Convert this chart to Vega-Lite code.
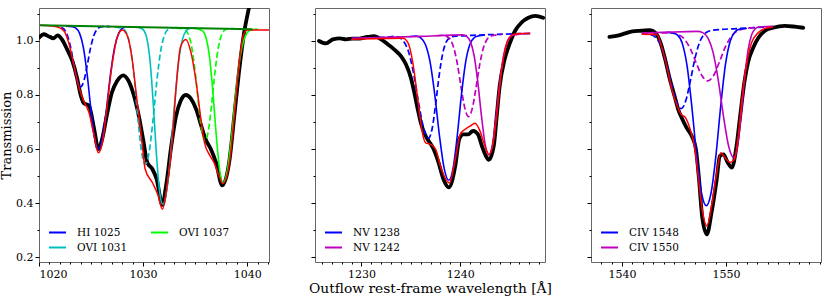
{
"$schema": "https://vega.github.io/schema/vega-lite/v6.json",
"background": "white",
"padding": {"left": 0, "top": 7, "right": 0, "bottom": 0},
"autosize": {"type": "pad"},
"bounds": "flush",
"spacing": 46,
"config": {
  "view": {"stroke": "#666666", "strokeWidth": 1},
  "font": "DejaVu Serif",
  "axis": {"labelFont": "DejaVu Serif", "labelFontSize": 11, "labelColor": "#000000", "tickColor": "#000000", "tickWidth": 1, "domain": false, "grid": false, "titleFont": "DejaVu Serif", "titleFontWeight": "normal", "titleColor": "#000000"},
  "legend": {"labelFont": "DejaVu Serif", "labelFontSize": 10.5, "labelColor": "#000000", "symbolType": "stroke", "symbolStrokeWidth": 2, "symbolSize": 289, "labelOffset": 10, "rowPadding": 0, "columnPadding": 19, "padding": 0, "offset": 9, "orient": "bottom-left"}
},
"resolve": {"scale": {"x": "independent", "y": "independent", "color": "independent", "stroke": "independent"}, "legend": {"color": "independent"}},
"datasets": {
"p1": [
{"k":"d","x":1020.0,"y":1.012},{"k":"d","x":1020.45,"y":1.025},{"k":"d","x":1020.9,"y":1.018},{"k":"d","x":1021.4,"y":1.010},{"k":"d","x":1021.8,"y":1.021},{"k":"d","x":1022.2,"y":1.006},{"k":"d","x":1022.7,"y":0.969},{"k":"d","x":1023.2,"y":0.926},{"k":"d","x":1023.65,"y":0.864},{"k":"d","x":1024.0,"y":0.800},{"k":"d","x":1024.3,"y":0.770},{"k":"d","x":1024.8,"y":0.760},{"k":"d","x":1025.3,"y":0.673},{"k":"d","x":1025.7,"y":0.600},{"k":"d","x":1026.06,"y":0.636},{"k":"d","x":1026.5,"y":0.722},{"k":"d","x":1027.0,"y":0.809},{"k":"d","x":1027.5,"y":0.852},{"k":"d","x":1028.1,"y":0.873},{"k":"d","x":1028.6,"y":0.852},{"k":"d","x":1029.1,"y":0.800},{"k":"d","x":1029.6,"y":0.720},{"k":"d","x":1030.0,"y":0.636},{"k":"d","x":1030.4,"y":0.550},{"k":"d","x":1030.9,"y":0.525},{"k":"d","x":1031.3,"y":0.488},{"k":"d","x":1031.85,"y":0.393},{"k":"d","x":1032.2,"y":0.463},{"k":"d","x":1032.7,"y":0.610},{"k":"d","x":1033.15,"y":0.720},{"k":"d","x":1033.6,"y":0.778},{"k":"d","x":1034.1,"y":0.800},{"k":"d","x":1034.6,"y":0.786},{"k":"d","x":1035.1,"y":0.747},{"k":"d","x":1035.55,"y":0.690},{"k":"d","x":1036.0,"y":0.636},{"k":"d","x":1036.5,"y":0.600},{"k":"d","x":1037.0,"y":0.550},{"k":"d","x":1037.6,"y":0.465},{"k":"d","x":1038.3,"y":0.560},{"k":"d","x":1038.75,"y":0.720},{"k":"d","x":1039.2,"y":0.883},{"k":"d","x":1039.7,"y":1.031},{"k":"d","x":1040.2,"y":1.130},{"k":"d","x":1040.4,"y":1.170},
{"k":"h","gd":"HI 1025 b","x":1021.3,"y":1.056},{"k":"h","gd":"HI 1025 b","x":1021.76,"y":1.0545},{"k":"h","gd":"HI 1025 b","x":1022.08,"y":1.0522},{"k":"h","gd":"HI 1025 b","x":1022.40,"y":1.0439},{"k":"h","gd":"HI 1025 b","x":1022.72,"y":1.0213},{"k":"h","gd":"HI 1025 b","x":1023.04,"y":0.9759},{"k":"h","gd":"HI 1025 b","x":1023.36,"y":0.9120},{"k":"h","gd":"HI 1025 b","x":1023.68,"y":0.8536},{"k":"h","gd":"HI 1025 b","x":1024.0,"y":0.8299},{"k":"h","gd":"HI 1025 b","x":1024.32,"y":0.8536},{"k":"h","gd":"HI 1025 b","x":1024.64,"y":0.9120},{"k":"h","gd":"HI 1025 b","x":1024.96,"y":0.9759},{"k":"h","gd":"HI 1025 b","x":1025.28,"y":1.0213},{"k":"h","gd":"HI 1025 b","x":1025.60,"y":1.0439},{"k":"h","gd":"HI 1025 b","x":1025.92,"y":1.0522},{"k":"h","gd":"HI 1025 b","x":1026.24,"y":1.0545},{"k":"h","gd":"HI 1025 b","x":1026.8,"y":1.0535},
{"k":"h","gd":"OVI 1031 b","x":1027.3,"y":1.051},{"k":"h","gd":"OVI 1031 b","x":1027.82,"y":1.0486},{"k":"h","gd":"OVI 1031 b","x":1028.16,"y":1.0433},{"k":"h","gd":"OVI 1031 b","x":1028.50,"y":1.0210},{"k":"h","gd":"OVI 1031 b","x":1028.84,"y":0.9612},{"k":"h","gd":"OVI 1031 b","x":1029.18,"y":0.8483},{"k":"h","gd":"OVI 1031 b","x":1029.52,"y":0.7043},{"k":"h","gd":"OVI 1031 b","x":1029.86,"y":0.5870},{"k":"h","gd":"OVI 1031 b","x":1030.2,"y":0.5433},{"k":"h","gd":"OVI 1031 b","x":1030.57,"y":0.5870},{"k":"h","gd":"OVI 1031 b","x":1030.94,"y":0.7043},{"k":"h","gd":"OVI 1031 b","x":1031.31,"y":0.8483},{"k":"h","gd":"OVI 1031 b","x":1031.68,"y":0.9612},{"k":"h","gd":"OVI 1031 b","x":1032.05,"y":1.0210},{"k":"h","gd":"OVI 1031 b","x":1032.42,"y":1.0433},{"k":"h","gd":"OVI 1031 b","x":1032.79,"y":1.0486},{"k":"h","gd":"OVI 1031 b","x":1033.3,"y":1.050},
{"k":"h","gd":"OVI 1037 b","x":1033.2,"y":1.048},{"k":"h","gd":"OVI 1037 b","x":1033.71,"y":1.0458},{"k":"h","gd":"OVI 1037 b","x":1034.03,"y":1.0411},{"k":"h","gd":"OVI 1037 b","x":1034.35,"y":1.0239},{"k":"h","gd":"OVI 1037 b","x":1034.67,"y":0.9775},{"k":"h","gd":"OVI 1037 b","x":1034.99,"y":0.8879},{"k":"h","gd":"OVI 1037 b","x":1035.31,"y":0.7694},{"k":"h","gd":"OVI 1037 b","x":1035.63,"y":0.6687},{"k":"h","gd":"OVI 1037 b","x":1035.95,"y":0.630},{"k":"h","gd":"OVI 1037 b","x":1036.27,"y":0.6687},{"k":"h","gd":"OVI 1037 b","x":1036.59,"y":0.7694},{"k":"h","gd":"OVI 1037 b","x":1036.91,"y":0.8879},{"k":"h","gd":"OVI 1037 b","x":1037.23,"y":0.9775},{"k":"h","gd":"OVI 1037 b","x":1037.55,"y":1.0239},{"k":"h","gd":"OVI 1037 b","x":1037.87,"y":1.0411},{"k":"h","gd":"OVI 1037 b","x":1038.19,"y":1.0458},{"k":"h","gd":"OVI 1037 b","x":1038.7,"y":1.046},
{"k":"s","g":"HI 1025","x":1022.6,"y":1.055},{"k":"s","g":"HI 1025","x":1023.18,"y":1.0527},{"k":"s","g":"HI 1025","x":1023.54,"y":1.0474},{"k":"s","g":"HI 1025","x":1023.90,"y":1.0283},{"k":"s","g":"HI 1025","x":1024.26,"y":0.9767},{"k":"s","g":"HI 1025","x":1024.62,"y":0.8779},{"k":"s","g":"HI 1025","x":1024.98,"y":0.7491},{"k":"s","g":"HI 1025","x":1025.34,"y":0.6413},{"k":"s","g":"HI 1025","x":1025.7,"y":0.6003},{"k":"s","g":"HI 1025","x":1026.09,"y":0.6413},{"k":"s","g":"HI 1025","x":1026.48,"y":0.7491},{"k":"s","g":"HI 1025","x":1026.87,"y":0.8779},{"k":"s","g":"HI 1025","x":1027.26,"y":0.9767},{"k":"s","g":"HI 1025","x":1027.65,"y":1.0283},{"k":"s","g":"HI 1025","x":1028.04,"y":1.0474},{"k":"s","g":"HI 1025","x":1028.43,"y":1.0527},{"k":"s","g":"HI 1025","x":1029.0,"y":1.052},
{"k":"s","g":"OVI 1031","x":1029.2,"y":1.051},{"k":"s","g":"OVI 1031","x":1029.78,"y":1.0477},{"k":"s","g":"OVI 1031","x":1030.08,"y":1.0387},{"k":"s","g":"OVI 1031","x":1030.38,"y":1.0059},{"k":"s","g":"OVI 1031","x":1030.68,"y":0.9199},{"k":"s","g":"OVI 1031","x":1030.98,"y":0.7643},{"k":"s","g":"OVI 1031","x":1031.28,"y":0.5801},{"k":"s","g":"OVI 1031","x":1031.58,"y":0.4430},{"k":"s","g":"OVI 1031","x":1031.88,"y":0.3949},{"k":"s","g":"OVI 1031","x":1032.26,"y":0.4430},{"k":"s","g":"OVI 1031","x":1032.64,"y":0.5801},{"k":"s","g":"OVI 1031","x":1033.02,"y":0.7643},{"k":"s","g":"OVI 1031","x":1033.40,"y":0.9199},{"k":"s","g":"OVI 1031","x":1033.78,"y":1.0059},{"k":"s","g":"OVI 1031","x":1034.16,"y":1.0387},{"k":"s","g":"OVI 1031","x":1034.54,"y":1.0477},{"k":"s","g":"OVI 1031","x":1035.1,"y":1.049},
{"k":"s","g":"OVI 1037","x":1034.8,"y":1.047},{"k":"s","g":"OVI 1037","x":1035.405,"y":1.0428},{"k":"s","g":"OVI 1037","x":1035.73,"y":1.0369},{"k":"s","g":"OVI 1037","x":1036.055,"y":1.0104},{"k":"s","g":"OVI 1037","x":1036.38,"y":0.9401},{"k":"s","g":"OVI 1037","x":1036.705,"y":0.8096},{"k":"s","g":"OVI 1037","x":1037.03,"y":0.6482},{"k":"s","g":"OVI 1037","x":1037.355,"y":0.5213},{"k":"s","g":"OVI 1037","x":1037.68,"y":0.4752},{"k":"s","g":"OVI 1037","x":1038.09,"y":0.5213},{"k":"s","g":"OVI 1037","x":1038.50,"y":0.6482},{"k":"s","g":"OVI 1037","x":1038.91,"y":0.8096},{"k":"s","g":"OVI 1037","x":1039.32,"y":0.9401},{"k":"s","g":"OVI 1037","x":1039.73,"y":1.0104},{"k":"s","g":"OVI 1037","x":1040.14,"y":1.0369},{"k":"s","g":"OVI 1037","x":1040.55,"y":1.0428},{"k":"s","g":"OVI 1037","x":1041.0,"y":1.044},
{"k":"f","x":1020.1,"y":1.058},{"k":"f","x":1021.7,"y":1.053},{"k":"f","x":1022.4,"y":1.037},{"k":"f","x":1022.85,"y":0.994},{"k":"f","x":1023.3,"y":0.920},{"k":"f","x":1023.8,"y":0.833},{"k":"f","x":1024.3,"y":0.778},{"k":"f","x":1024.8,"y":0.735},{"k":"f","x":1025.3,"y":0.648},{"k":"f","x":1025.7,"y":0.586},{"k":"f","x":1026.15,"y":0.636},{"k":"f","x":1026.5,"y":0.747},{"k":"f","x":1027.0,"y":0.907},{"k":"f","x":1027.5,"y":1.012},{"k":"f","x":1028.0,"y":1.041},{"k":"f","x":1028.5,"y":1.018},{"k":"f","x":1028.95,"y":0.932},{"k":"f","x":1029.4,"y":0.784},{"k":"f","x":1029.9,"y":0.623},{"k":"f","x":1030.2,"y":0.525},{"k":"f","x":1030.9,"y":0.475},{"k":"f","x":1031.4,"y":0.432},{"k":"f","x":1031.85,"y":0.377},{"k":"f","x":1032.3,"y":0.463},{"k":"f","x":1032.8,"y":0.636},{"k":"f","x":1033.15,"y":0.820},{"k":"f","x":1033.6,"y":0.980},{"k":"f","x":1034.1,"y":1.006},{"k":"f","x":1034.6,"y":0.957},{"k":"f","x":1035.1,"y":0.846},{"k":"f","x":1035.55,"y":0.710},{"k":"f","x":1035.9,"y":0.623},{"k":"f","x":1036.35,"y":0.580},{"k":"f","x":1036.8,"y":0.550},{"k":"f","x":1037.3,"y":0.500},{"k":"f","x":1037.65,"y":0.472},{"k":"f","x":1038.3,"y":0.550},{"k":"f","x":1038.75,"y":0.720},{"k":"f","x":1039.2,"y":0.907},{"k":"f","x":1039.6,"y":1.018},{"k":"f","x":1040.0,"y":1.041},{"k":"f","x":1042.1,"y":1.041},
{"k":"c","x":1020.1,"y":1.058},{"k":"c","x":1040.5,"y":1.0434}
],
"p2": [
{"k":"d","x":1225.7,"y":1.000},{"k":"d","x":1226.4,"y":0.991},{"k":"d","x":1227.1,"y":1.006},{"k":"d","x":1227.8,"y":1.010},{"k":"d","x":1228.45,"y":1.006},{"k":"d","x":1229.1,"y":1.009},{"k":"d","x":1229.8,"y":1.009},{"k":"d","x":1230.6,"y":1.015},{"k":"d","x":1231.3,"y":1.018},{"k":"d","x":1232.0,"y":1.006},{"k":"d","x":1232.65,"y":0.988},{"k":"d","x":1233.3,"y":0.969},{"k":"d","x":1234.0,"y":0.944},{"k":"d","x":1234.5,"y":0.914},{"k":"d","x":1235.0,"y":0.864},{"k":"d","x":1235.35,"y":0.809},{"k":"d","x":1235.7,"y":0.747},{"k":"d","x":1236.0,"y":0.698},{"k":"d","x":1236.5,"y":0.648},{"k":"d","x":1236.8,"y":0.630},{"k":"d","x":1237.3,"y":0.600},{"k":"d","x":1237.8,"y":0.550},{"k":"d","x":1238.3,"y":0.488},{"k":"d","x":1238.85,"y":0.458},{"k":"d","x":1239.5,"y":0.537},{"k":"d","x":1239.9,"y":0.636},{"k":"d","x":1240.3,"y":0.654},{"k":"d","x":1240.8,"y":0.654},{"k":"d","x":1241.3,"y":0.667},{"k":"d","x":1241.8,"y":0.654},{"k":"d","x":1242.2,"y":0.611},{"k":"d","x":1242.6,"y":0.574},{"k":"d","x":1242.9,"y":0.560},{"k":"d","x":1243.4,"y":0.611},{"k":"d","x":1243.7,"y":0.722},{"k":"d","x":1244.0,"y":0.833},{"k":"d","x":1244.5,"y":0.932},{"k":"d","x":1245.05,"y":0.994},{"k":"d","x":1245.55,"y":1.037},{"k":"d","x":1246.2,"y":1.068},{"k":"d","x":1246.9,"y":1.086},{"k":"d","x":1247.6,"y":1.093},{"k":"d","x":1248.4,"y":1.086},
{"k":"h","gd":"NV 1238 b","x":1229.0,"y":1.010},{"k":"h","gd":"NV 1238 b","x":1232.5,"y":1.0135},{"k":"h","gd":"NV 1238 b","x":1233.3,"y":1.0170},{"k":"h","gd":"NV 1238 b","x":1233.8,"y":1.0128},{"k":"h","gd":"NV 1238 b","x":1234.3,"y":0.9974},{"k":"h","gd":"NV 1238 b","x":1234.8,"y":0.9560},{"k":"h","gd":"NV 1238 b","x":1235.3,"y":0.8756},{"k":"h","gd":"NV 1238 b","x":1235.8,"y":0.7683},{"k":"h","gd":"NV 1238 b","x":1236.3,"y":0.6760},{"k":"h","gd":"NV 1238 b","x":1236.8,"y":0.6401},{"k":"h","gd":"NV 1238 b","x":1237.16,"y":0.6760},{"k":"h","gd":"NV 1238 b","x":1237.52,"y":0.7683},{"k":"h","gd":"NV 1238 b","x":1237.88,"y":0.8756},{"k":"h","gd":"NV 1238 b","x":1238.24,"y":0.9560},{"k":"h","gd":"NV 1238 b","x":1238.60,"y":0.9974},{"k":"h","gd":"NV 1238 b","x":1238.96,"y":1.0128},{"k":"h","gd":"NV 1238 b","x":1239.32,"y":1.0170},{"k":"h","gd":"NV 1238 b","x":1242.0,"y":1.022},{"k":"h","gd":"NV 1238 b","x":1247.1,"y":1.028},
{"k":"h","gd":"NV 1242 b","x":1237.6,"y":1.0195},{"k":"h","gd":"NV 1242 b","x":1238.225,"y":1.0212},{"k":"h","gd":"NV 1242 b","x":1238.60,"y":1.0180},{"k":"h","gd":"NV 1242 b","x":1238.975,"y":1.0064},{"k":"h","gd":"NV 1242 b","x":1239.35,"y":0.9747},{"k":"h","gd":"NV 1242 b","x":1239.725,"y":0.9122},{"k":"h","gd":"NV 1242 b","x":1240.10,"y":0.8265},{"k":"h","gd":"NV 1242 b","x":1240.475,"y":0.7504},{"k":"h","gd":"NV 1242 b","x":1240.85,"y":0.7202},{"k":"h","gd":"NV 1242 b","x":1241.225,"y":0.7504},{"k":"h","gd":"NV 1242 b","x":1241.60,"y":0.8265},{"k":"h","gd":"NV 1242 b","x":1241.975,"y":0.9122},{"k":"h","gd":"NV 1242 b","x":1242.35,"y":0.9747},{"k":"h","gd":"NV 1242 b","x":1242.725,"y":1.0064},{"k":"h","gd":"NV 1242 b","x":1243.10,"y":1.0180},{"k":"h","gd":"NV 1242 b","x":1243.475,"y":1.0212},{"k":"h","gd":"NV 1242 b","x":1244.2,"y":1.024},
{"k":"s","g":"NV 1238","x":1234.8,"y":1.016},{"k":"s","g":"NV 1238","x":1235.525,"y":1.0183},{"k":"s","g":"NV 1238","x":1236.00,"y":1.0116},{"k":"s","g":"NV 1238","x":1236.475,"y":0.9872},{"k":"s","g":"NV 1238","x":1236.95,"y":0.9221},{"k":"s","g":"NV 1238","x":1237.425,"y":0.8007},{"k":"s","g":"NV 1238","x":1237.90,"y":0.6490},{"k":"s","g":"NV 1238","x":1238.375,"y":0.5283},{"k":"s","g":"NV 1238","x":1238.85,"y":0.4840},{"k":"s","g":"NV 1238","x":1239.275,"y":0.5283},{"k":"s","g":"NV 1238","x":1239.70,"y":0.6490},{"k":"s","g":"NV 1238","x":1240.125,"y":0.8007},{"k":"s","g":"NV 1238","x":1240.55,"y":0.9221},{"k":"s","g":"NV 1238","x":1240.975,"y":0.9872},{"k":"s","g":"NV 1238","x":1241.40,"y":1.0116},{"k":"s","g":"NV 1238","x":1241.825,"y":1.0183},{"k":"s","g":"NV 1238","x":1242.5,"y":1.0225},
{"k":"s","g":"NV 1242","x":1229.0,"y":1.010},{"k":"s","g":"NV 1242","x":1236.0,"y":1.017},{"k":"s","g":"NV 1242","x":1240.275,"y":1.0227},{"k":"s","g":"NV 1242","x":1240.65,"y":1.0175},{"k":"s","g":"NV 1242","x":1241.025,"y":0.9986},{"k":"s","g":"NV 1242","x":1241.40,"y":0.9477},{"k":"s","g":"NV 1242","x":1241.775,"y":0.8504},{"k":"s","g":"NV 1242","x":1242.15,"y":0.7239},{"k":"s","g":"NV 1242","x":1242.525,"y":0.6181},{"k":"s","g":"NV 1242","x":1242.9,"y":0.5780},{"k":"s","g":"NV 1242","x":1243.275,"y":0.6181},{"k":"s","g":"NV 1242","x":1243.65,"y":0.7239},{"k":"s","g":"NV 1242","x":1244.025,"y":0.8504},{"k":"s","g":"NV 1242","x":1244.40,"y":0.9477},{"k":"s","g":"NV 1242","x":1244.775,"y":0.9986},{"k":"s","g":"NV 1242","x":1245.15,"y":1.0175},{"k":"s","g":"NV 1242","x":1245.525,"y":1.0227},{"k":"s","g":"NV 1242","x":1247.1,"y":1.028},
{"k":"f","x":1228.95,"y":1.006},{"k":"f","x":1234.2,"y":1.010},{"k":"f","x":1234.7,"y":0.994},{"k":"f","x":1235.2,"y":0.920},{"k":"f","x":1235.7,"y":0.784},{"k":"f","x":1236.1,"y":0.673},{"k":"f","x":1236.5,"y":0.623},{"k":"f","x":1237.0,"y":0.617},{"k":"f","x":1237.5,"y":0.600},{"k":"f","x":1238.1,"y":0.525},{"k":"f","x":1238.9,"y":0.474},{"k":"f","x":1239.5,"y":0.562},{"k":"f","x":1240.0,"y":0.654},{"k":"f","x":1240.5,"y":0.673},{"k":"f","x":1241.0,"y":0.685},{"k":"f","x":1241.5,"y":0.695},{"k":"f","x":1242.0,"y":0.667},{"k":"f","x":1242.5,"y":0.611},{"k":"f","x":1242.9,"y":0.580},{"k":"f","x":1243.4,"y":0.636},{"k":"f","x":1243.8,"y":0.760},{"k":"f","x":1244.2,"y":0.895},{"k":"f","x":1244.7,"y":0.988},{"k":"f","x":1245.2,"y":1.021},{"k":"f","x":1245.9,"y":1.028},{"k":"f","x":1247.1,"y":1.028}
],
"p3": [
{"k":"d","x":1538.8,"y":1.015},{"k":"d","x":1539.7,"y":1.021},{"k":"d","x":1540.3,"y":1.028},{"k":"d","x":1541.0,"y":1.036},{"k":"d","x":1541.9,"y":1.038},{"k":"d","x":1542.7,"y":1.040},{"k":"d","x":1543.2,"y":1.031},{"k":"d","x":1543.7,"y":0.994},{"k":"d","x":1544.15,"y":0.932},{"k":"d","x":1544.6,"y":0.858},{"k":"d","x":1545.05,"y":0.796},{"k":"d","x":1545.4,"y":0.747},{"k":"d","x":1545.8,"y":0.710},{"k":"d","x":1546.2,"y":0.679},{"k":"d","x":1546.7,"y":0.648},{"k":"d","x":1547.1,"y":0.600},{"k":"d","x":1547.4,"y":0.488},{"k":"d","x":1547.7,"y":0.350},{"k":"d","x":1548.15,"y":0.284},{"k":"d","x":1548.6,"y":0.364},{"k":"d","x":1549.1,"y":0.488},{"k":"d","x":1549.4,"y":0.574},{"k":"d","x":1549.75,"y":0.580},{"k":"d","x":1550.15,"y":0.550},{"k":"d","x":1550.55,"y":0.531},{"k":"d","x":1551.0,"y":0.611},{"k":"d","x":1551.35,"y":0.722},{"k":"d","x":1551.75,"y":0.846},{"k":"d","x":1552.1,"y":0.920},{"k":"d","x":1552.6,"y":0.975},{"k":"d","x":1553.1,"y":1.012},{"k":"d","x":1553.7,"y":1.037},{"k":"d","x":1554.5,"y":1.049},{"k":"d","x":1555.65,"y":1.056},{"k":"d","x":1556.6,"y":1.053},{"k":"d","x":1557.4,"y":1.049},
{"k":"h","gd":"CIV 1548 b","x":1541.9,"y":1.026},{"k":"h","gd":"CIV 1548 b","x":1542.2,"y":1.0259},{"k":"h","gd":"CIV 1548 b","x":1542.7,"y":1.0239},{"k":"h","gd":"CIV 1548 b","x":1543.2,"y":1.0143},{"k":"h","gd":"CIV 1548 b","x":1543.7,"y":0.9859},{"k":"h","gd":"CIV 1548 b","x":1544.2,"y":0.9287},{"k":"h","gd":"CIV 1548 b","x":1544.7,"y":0.8492},{"k":"h","gd":"CIV 1548 b","x":1545.2,"y":0.7780},{"k":"h","gd":"CIV 1548 b","x":1545.7,"y":0.750},{"k":"h","gd":"CIV 1548 b","x":1546.135,"y":0.7796},{"k":"h","gd":"CIV 1548 b","x":1546.57,"y":0.8526},{"k":"h","gd":"CIV 1548 b","x":1547.005,"y":0.9341},{"k":"h","gd":"CIV 1548 b","x":1547.44,"y":0.9935},{"k":"h","gd":"CIV 1548 b","x":1547.875,"y":1.0241},{"k":"h","gd":"CIV 1548 b","x":1548.31,"y":1.0359},{"k":"h","gd":"CIV 1548 b","x":1548.745,"y":1.0399},{"k":"h","gd":"CIV 1548 b","x":1551.0,"y":1.046},{"k":"h","gd":"CIV 1548 b","x":1554.5,"y":1.053},
{"k":"h","gd":"CIV 1550 b","x":1543.8,"y":1.030},{"k":"h","gd":"CIV 1550 b","x":1544.33,"y":1.0300},{"k":"h","gd":"CIV 1550 b","x":1544.89,"y":1.0289},{"k":"h","gd":"CIV 1550 b","x":1545.45,"y":1.0236},{"k":"h","gd":"CIV 1550 b","x":1546.01,"y":1.0064},{"k":"h","gd":"CIV 1550 b","x":1546.57,"y":0.9705},{"k":"h","gd":"CIV 1550 b","x":1547.13,"y":0.9190},{"k":"h","gd":"CIV 1550 b","x":1547.69,"y":0.8710},{"k":"h","gd":"CIV 1550 b","x":1548.25,"y":0.852},{"k":"h","gd":"CIV 1550 b","x":1548.81,"y":0.8732},{"k":"h","gd":"CIV 1550 b","x":1549.37,"y":0.9236},{"k":"h","gd":"CIV 1550 b","x":1549.93,"y":0.9779},{"k":"h","gd":"CIV 1550 b","x":1550.49,"y":1.0166},{"k":"h","gd":"CIV 1550 b","x":1551.05,"y":1.0364},{"k":"h","gd":"CIV 1550 b","x":1551.61,"y":1.0445},{"k":"h","gd":"CIV 1550 b","x":1552.17,"y":1.0480},{"k":"h","gd":"CIV 1550 b","x":1552.8,"y":1.050},
{"k":"s","g":"CIV 1548","x":1544.3,"y":1.032},{"k":"s","g":"CIV 1548","x":1544.88,"y":1.0295},{"k":"s","g":"CIV 1548","x":1545.34,"y":1.0216},{"k":"s","g":"CIV 1548","x":1545.80,"y":0.9903},{"k":"s","g":"CIV 1548","x":1546.26,"y":0.9064},{"k":"s","g":"CIV 1548","x":1546.72,"y":0.7535},{"k":"s","g":"CIV 1548","x":1547.18,"y":0.5723},{"k":"s","g":"CIV 1548","x":1547.64,"y":0.4370},{"k":"s","g":"CIV 1548","x":1548.1,"y":0.390},{"k":"s","g":"CIV 1548","x":1548.56,"y":0.4380},{"k":"s","g":"CIV 1548","x":1549.02,"y":0.5745},{"k":"s","g":"CIV 1548","x":1549.48,"y":0.7581},{"k":"s","g":"CIV 1548","x":1549.94,"y":0.9136},{"k":"s","g":"CIV 1548","x":1550.40,"y":1.0003},{"k":"s","g":"CIV 1548","x":1550.86,"y":1.0340},{"k":"s","g":"CIV 1548","x":1551.32,"y":1.0441},{"k":"s","g":"CIV 1548","x":1552.0,"y":1.046},
{"k":"s","g":"CIV 1550","x":1541.9,"y":1.029},{"k":"s","g":"CIV 1550","x":1544.5,"y":1.033},{"k":"s","g":"CIV 1550","x":1547.25,"y":1.0355},{"k":"s","g":"CIV 1550","x":1547.75,"y":1.0309},{"k":"s","g":"CIV 1550","x":1548.25,"y":1.0117},{"k":"s","g":"CIV 1550","x":1548.75,"y":0.9580},{"k":"s","g":"CIV 1550","x":1549.25,"y":0.8544},{"k":"s","g":"CIV 1550","x":1549.75,"y":0.7205},{"k":"s","g":"CIV 1550","x":1550.25,"y":0.6095},{"k":"s","g":"CIV 1550","x":1550.75,"y":0.568},{"k":"s","g":"CIV 1550","x":1551.09,"y":0.6109},{"k":"s","g":"CIV 1550","x":1551.43,"y":0.7237},{"k":"s","g":"CIV 1550","x":1551.77,"y":0.8602},{"k":"s","g":"CIV 1550","x":1552.11,"y":0.9666},{"k":"s","g":"CIV 1550","x":1552.45,"y":1.0231},{"k":"s","g":"CIV 1550","x":1552.79,"y":1.0449},{"k":"s","g":"CIV 1550","x":1553.13,"y":1.0517},{"k":"s","g":"CIV 1550","x":1554.5,"y":1.054},
{"k":"f","x":1541.9,"y":1.025},{"k":"f","x":1543.35,"y":1.024},{"k":"f","x":1543.8,"y":0.980},{"k":"f","x":1544.3,"y":0.907},{"k":"f","x":1544.8,"y":0.820},{"k":"f","x":1545.3,"y":0.760},{"k":"f","x":1545.7,"y":0.728},{"k":"f","x":1546.1,"y":0.716},{"k":"f","x":1546.55,"y":0.673},{"k":"f","x":1546.96,"y":0.611},{"k":"f","x":1547.35,"y":0.488},{"k":"f","x":1547.7,"y":0.377},{"k":"f","x":1548.15,"y":0.315},{"k":"f","x":1548.6,"y":0.389},{"k":"f","x":1549.1,"y":0.512},{"k":"f","x":1549.5,"y":0.586},{"k":"f","x":1549.9,"y":0.568},{"k":"f","x":1550.4,"y":0.550},{"k":"f","x":1550.8,"y":0.562},{"k":"f","x":1551.2,"y":0.660},{"k":"f","x":1551.55,"y":0.796},{"k":"f","x":1552.0,"y":0.920},{"k":"f","x":1552.45,"y":0.994},{"k":"f","x":1553.1,"y":1.031},{"k":"f","x":1553.7,"y":1.046},{"k":"f","x":1554.5,"y":1.052}
]
},
"hconcat": [
{
 "width": 230, "height": 254,
 "data": {"name": "p1"},
 "resolve": {"axis": {"x": "independent", "y": "independent"}},
 "layer": [
  {"transform": [{"filter": "datum.k == 'd'"}],
   "mark": {"type": "line", "color": "#000000", "strokeWidth": 3.8, "interpolate": "monotone", "clip": true, "strokeCap": "round", "strokeJoin": "round"},
   "encoding": {
    "x": {"field": "x", "type": "quantitative", "scale": {"domain": [1020, 1042.09], "nice": false, "zero": false}, "axis": {"orient": "bottom", "values": [1020, 1030, 1040], "format": "d", "tickSize": 4, "labelPadding": 2, "title": null}},
    "y": {"field": "y", "type": "quantitative", "scale": {"domain": [0.1815, 1.1222], "nice": false, "zero": false}, "axis": {"orient": "left", "values": [0.2, 0.4, 0.6, 0.8, 1.0], "format": ".1f", "tickSize": 4, "labelPadding": 2, "title": "Transmission", "titleFontSize": 13, "titlePadding": 2}}
   }},
  {"transform": [{"filter": "datum.k == 'h'"}],
   "mark": {"type": "line", "strokeWidth": 1.7, "strokeDash": [6, 3], "interpolate": "monotone", "clip": true},
   "encoding": {
    "x": {"field": "x", "type": "quantitative", "axis": {"orient": "bottom", "values": [1021, 1022, 1023, 1024, 1025, 1026, 1027, 1028, 1029, 1031, 1032, 1033, 1034, 1035, 1036, 1037, 1038, 1039, 1041, 1042], "tickSize": 2, "labels": false, "title": null}},
    "y": {"field": "y", "type": "quantitative", "axis": {"orient": "left", "values": [0.3, 0.5, 0.7, 0.9, 1.1], "tickSize": 2, "labels": false, "title": null}},
    "stroke": {"field": "gd", "type": "nominal", "scale": {"domain": ["HI 1025 b", "OVI 1031 b", "OVI 1037 b"], "range": ["#0000ff", "#00bfbf", "#00ff00"]}, "legend": null}
   }},
  {"transform": [{"filter": "datum.k == 's'"}],
   "mark": {"type": "line", "strokeWidth": 1.6, "interpolate": "monotone", "clip": true},
   "encoding": {
    "x": {"field": "x", "type": "quantitative", "axis": null},
    "y": {"field": "y", "type": "quantitative", "axis": null},
    "color": {"field": "g", "type": "nominal", "scale": {"domain": ["HI 1025", "OVI 1031", "OVI 1037"], "range": ["#0000ff", "#00bfbf", "#00ff00"]}, "legend": {"title": null, "columns": 2, "orient": "bottom-left"}}
   }},
  {"transform": [{"filter": "datum.k == 'f'"}],
   "mark": {"type": "line", "color": "#ff0000", "strokeWidth": 1.5, "interpolate": "monotone", "clip": true},
   "encoding": {"x": {"field": "x", "type": "quantitative", "axis": null}, "y": {"field": "y", "type": "quantitative", "axis": null}}},
  {"transform": [{"filter": "datum.k == 'c'"}],
   "mark": {"type": "line", "color": "#008000", "strokeWidth": 2, "clip": true},
   "encoding": {"x": {"field": "x", "type": "quantitative", "axis": null}, "y": {"field": "y", "type": "quantitative", "axis": null}}}
 ]
},
{
 "width": 230, "height": 254,
 "data": {"name": "p2"},
 "resolve": {"axis": {"x": "independent", "y": "independent"}},
 "layer": [
  {"transform": [{"filter": "datum.k == 'd'"}],
   "mark": {"type": "line", "color": "#000000", "strokeWidth": 3.8, "interpolate": "monotone", "clip": true, "strokeCap": "round", "strokeJoin": "round"},
   "encoding": {
    "x": {"field": "x", "type": "quantitative", "scale": {"domain": [1225.29, 1248.59], "nice": false, "zero": false}, "axis": {"orient": "bottom", "values": [1230, 1240], "format": "d", "tickSize": 4, "labelPadding": 2, "title": "Outflow rest-frame wavelength [Å]", "titleFontSize": 13.8, "titlePadding": 2}},
    "y": {"field": "y", "type": "quantitative", "scale": {"domain": [0.1815, 1.1222], "nice": false, "zero": false}, "axis": {"orient": "left", "values": [0.2, 0.4, 0.6, 0.8, 1.0], "tickSize": 4, "labels": false, "title": null}}
   }},
  {"transform": [{"filter": "datum.k == 'h'"}],
   "mark": {"type": "line", "strokeWidth": 1.7, "strokeDash": [6, 3], "interpolate": "monotone", "clip": true},
   "encoding": {
    "x": {"field": "x", "type": "quantitative", "axis": {"orient": "bottom", "values": [1226, 1227, 1228, 1229, 1231, 1232, 1233, 1234, 1235, 1236, 1237, 1238, 1239, 1241, 1242, 1243, 1244, 1245, 1246, 1247, 1248], "tickSize": 2, "labels": false, "title": null}},
    "y": {"field": "y", "type": "quantitative", "axis": {"orient": "left", "values": [0.3, 0.5, 0.7, 0.9, 1.1], "tickSize": 2, "labels": false, "title": null}},
    "stroke": {"field": "gd", "type": "nominal", "scale": {"domain": ["NV 1238 b", "NV 1242 b"], "range": ["#0000ff", "#bf00bf"]}, "legend": null}
   }},
  {"transform": [{"filter": "datum.k == 's'"}],
   "mark": {"type": "line", "strokeWidth": 1.6, "interpolate": "monotone", "clip": true},
   "encoding": {
    "x": {"field": "x", "type": "quantitative", "axis": null},
    "y": {"field": "y", "type": "quantitative", "axis": null},
    "color": {"field": "g", "type": "nominal", "scale": {"domain": ["NV 1238", "NV 1242"], "range": ["#0000ff", "#bf00bf"]}, "legend": {"title": null, "orient": "bottom-left"}}
   }},
  {"transform": [{"filter": "datum.k == 'f'"}],
   "mark": {"type": "line", "color": "#ff0000", "strokeWidth": 1.5, "interpolate": "monotone", "clip": true},
   "encoding": {"x": {"field": "x", "type": "quantitative", "axis": null}, "y": {"field": "y", "type": "quantitative", "axis": null}}}
 ]
},
{
 "width": 230, "height": 254,
 "data": {"name": "p3"},
 "resolve": {"axis": {"x": "independent", "y": "independent"}},
 "layer": [
  {"transform": [{"filter": "datum.k == 'd'"}],
   "mark": {"type": "line", "color": "#000000", "strokeWidth": 3.8, "interpolate": "monotone", "clip": true, "strokeCap": "round", "strokeJoin": "round"},
   "encoding": {
    "x": {"field": "x", "type": "quantitative", "scale": {"domain": [1537.03, 1559.11], "nice": false, "zero": false}, "axis": {"orient": "bottom", "values": [1540, 1550], "format": "d", "tickSize": 4, "labelPadding": 2, "title": null}},
    "y": {"field": "y", "type": "quantitative", "scale": {"domain": [0.1815, 1.1222], "nice": false, "zero": false}, "axis": {"orient": "left", "values": [0.2, 0.4, 0.6, 0.8, 1.0], "tickSize": 4, "labels": false, "title": null}}
   }},
  {"transform": [{"filter": "datum.k == 'h'"}],
   "mark": {"type": "line", "strokeWidth": 1.7, "strokeDash": [6, 3], "interpolate": "monotone", "clip": true},
   "encoding": {
    "x": {"field": "x", "type": "quantitative", "axis": {"orient": "bottom", "values": [1538, 1539, 1541, 1542, 1543, 1544, 1545, 1546, 1547, 1548, 1549, 1551, 1552, 1553, 1554, 1555, 1556, 1557, 1558, 1559], "tickSize": 2, "labels": false, "title": null}},
    "y": {"field": "y", "type": "quantitative", "axis": {"orient": "left", "values": [0.3, 0.5, 0.7, 0.9, 1.1], "tickSize": 2, "labels": false, "title": null}},
    "stroke": {"field": "gd", "type": "nominal", "scale": {"domain": ["CIV 1548 b", "CIV 1550 b"], "range": ["#0000ff", "#bf00bf"]}, "legend": null}
   }},
  {"transform": [{"filter": "datum.k == 's'"}],
   "mark": {"type": "line", "strokeWidth": 1.6, "interpolate": "monotone", "clip": true},
   "encoding": {
    "x": {"field": "x", "type": "quantitative", "axis": null},
    "y": {"field": "y", "type": "quantitative", "axis": null},
    "color": {"field": "g", "type": "nominal", "scale": {"domain": ["CIV 1548", "CIV 1550"], "range": ["#0000ff", "#bf00bf"]}, "legend": {"title": null, "orient": "bottom-left"}}
   }},
  {"transform": [{"filter": "datum.k == 'f'"}],
   "mark": {"type": "line", "color": "#ff0000", "strokeWidth": 1.5, "interpolate": "monotone", "clip": true},
   "encoding": {"x": {"field": "x", "type": "quantitative", "axis": null}, "y": {"field": "y", "type": "quantitative", "axis": null}}}
 ]
}
]
}
